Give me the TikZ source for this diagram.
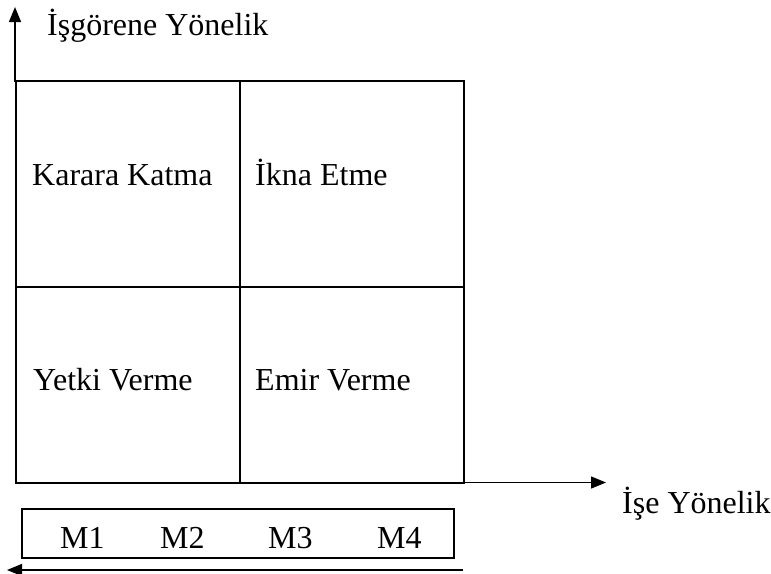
\documentclass[tikz,border=0pt]{standalone}
\usepackage{fontspec}
\setmainfont{Liberation Serif}
\usetikzlibrary{arrows.meta}
\begin{document}
\begin{tikzpicture}[x=1pt,y=-1pt,
  gridline/.style={line width=2pt},
  axis/.style={line width=1.3pt,-{Triangle[length=15pt,width=12pt]}},
  lbl/.style={anchor=base west,inner sep=0pt,font=\fontsize{32}{38}\selectfont},
  mbox/.style={draw,line width=1.6pt,minimum width=432pt,minimum height=49pt,inner sep=0pt}]
\useasboundingbox (0,0) rectangle (771,573);
% corners of the style grid
\coordinate (tl) at (16,81);
\coordinate (br) at (464,482.5);
\coordinate (tm) at (240,81);
\coordinate (bm) at (240,482.5);
\coordinate (ml) at (16,287);
\coordinate (mr) at (464,287);
\draw[gridline] (tl) rectangle (br);
\draw[gridline] (tm) -- (bm);
\draw[gridline] (ml) -- (mr);
% axes
\coordinate (ytop) at (15,7);
\coordinate (ybase) at (15,82);
\coordinate (xend) at (606,482.5);
\draw[axis] (ybase) -- (ytop);
\draw[axis] (br) -- (xend);
% axis labels
\node[lbl] (yl) at (47,35) {İşgörene Yönelik};
\node[lbl] (xl) at (622,513) {İşe Yönelik};
% cell labels
\node[lbl] (kk) at (32,185) {Karara Katma};
\node[lbl] (ie) at (255,185) {İkna Etme};
\node[lbl] (yv) at (33,390) {Yetki Verme};
\node[lbl] (ev) at (255,390) {Emir Verme};
% style scale
\node[mbox] (scale) at (238,533.5) {};
\node[lbl] (m1) at (60,548) {M1};
\node[lbl] (m2) at (160,548) {M2};
\node[lbl] (m3) at (268,548) {M3};
\node[lbl] (m4) at (377,548) {M4};
\coordinate (sr) at (463,570);
\coordinate (sl) at (7,570);
\draw[axis] (sr) -- (sl);
\end{tikzpicture}
\end{document}
